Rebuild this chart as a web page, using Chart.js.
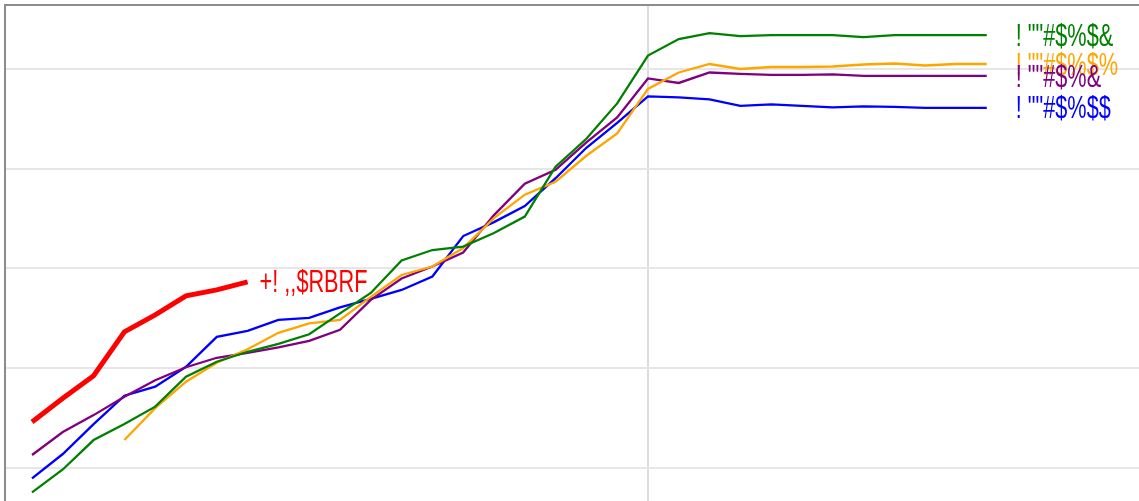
<!DOCTYPE html>
<html>
<head>
<meta charset="utf-8">
<script src="https://cdn.jsdelivr.net/npm/chart.js@4.4.1/dist/chart.umd.min.js"></script>
<style>
  html, body { margin: 0; padding: 0; background: #fff; overflow: hidden; }
  #wrap { width: 1170px; height: 540px; }
</style>
</head>
<body>
<div id="wrap"><canvas id="chart" width="1170" height="540"></canvas></div>
<script>
// x positions (one per year)
const years = [1990, 1991, 1992, 1993, 1994, 1995, 1996, 1997, 1998, 1999,
  2000, 2001, 2002, 2003, 2004, 2005, 2006, 2007, 2008, 2009,
  2010, 2011, 2012, 2013, 2014, 2015, 2016, 2017, 2018, 2019, 2020, 2021];
const markerYear = 2010;
const yTicks = [0, 20, 40, 60, 80];

const greenValues = [-4.9, -0.3, 5.6, 8.8, 12.3, 18.3, 21.3, 23.3, 24.9, 26.8,
  31.0, 35.1, 41.6, 43.7, 44.4, 47.1, 50.4, 60.4, 66.0, 73.1,
  82.7, 86.0, 87.2, 86.6, 86.8, 86.8, 86.8, 86.4, 86.8, 86.8, 86.8, 86.8];
const orangeValues = [null, null, null, 5.6, 12.0, 17.3, 21.1, 23.8, 27.1, 29.0,
  29.7, 34.3, 38.7, 40.4, 44.1, 50.1, 54.8, 57.4, 62.6, 67.1,
  76.0, 79.3, 81.0, 80.0, 80.4, 80.4, 80.5, 80.9, 81.1, 80.7, 81.0, 81.0];
const purpleValues = [2.6, 7.2, 10.6, 14.3, 17.6, 20.2, 22.1, 23.1, 24.2, 25.5,
  27.7, 33.7, 38.0, 40.4, 43.2, 50.7, 57.0, 59.8, 65.3, 70.3,
  78.1, 77.2, 79.3, 79.0, 78.8, 78.8, 78.9, 78.6, 78.6, 78.6, 78.6, 78.6];
const blueValues = [-2.1, 2.8, 8.8, 14.5, 16.3, 20.3, 26.3, 27.5, 29.7, 30.1,
  32.2, 33.9, 35.7, 38.4, 46.5, 49.3, 52.5, 58.1, 64.2, 69.2,
  74.5, 74.3, 73.9, 72.6, 72.9, 72.6, 72.3, 72.5, 72.4, 72.2, 72.2, 72.2];
const redValues = [9.2, 14.0, 18.5, 27.3, 30.7, 34.5, 35.7, 37.3];

const seriesLabels = ['! ""#$%$&', '! ""#$%$%', '! ""#$%&', '! ""#$%$$', '+! ,,$RBRF'];

const toPoints = vals => vals.map((v, i) => ({ x: years[i], y: v }));

// text at the end of each line, squeezed sideways to look like a narrow face
const endLabels = {
  id: 'endLabels',
  afterDatasetsDraw(chart) {
    const ctx = chart.ctx;
    chart.data.datasets.forEach((ds, i) => {
      const meta = chart.getDatasetMeta(i);
      const last = meta.data[meta.data.length - 1];
      ctx.save();
      ctx.font = '31px "Liberation Sans", Arial, sans-serif';
      ctx.textBaseline = 'middle';
      ctx.textAlign = 'left';
      ctx.fillStyle = ds.borderColor;
      ctx.translate(last.x + ds.labelGap, last.y + 2);
      ctx.scale(0.7, 1);
      ctx.fillText(ds.label, 0, 0);
      ctx.restore();
    });
  }
};

new Chart(document.getElementById('chart'), {
  type: 'line',
  data: {
    datasets: [
      { label: seriesLabels[0], data: toPoints(greenValues), borderColor: 'green', borderWidth: 2.3, labelGap: 29 },
      { label: seriesLabels[1], data: toPoints(orangeValues), borderColor: 'orange', borderWidth: 2.3, labelGap: 29 },
      { label: seriesLabels[2], data: toPoints(purpleValues), borderColor: 'purple', borderWidth: 2.3, labelGap: 29 },
      { label: seriesLabels[3], data: toPoints(blueValues), borderColor: 'blue', borderWidth: 2.3, labelGap: 29 },
      { label: seriesLabels[4], data: toPoints(redValues), borderColor: 'red', borderWidth: 5, labelGap: 12 }
    ]
  },
  options: {
    responsive: false,
    animation: false,
    devicePixelRatio: 1,
    layout: { padding: { left: 5, top: 5, right: 0, bottom: 0 } },
    elements: { point: { radius: 0 }, line: { tension: 0, borderCapStyle: 'butt' } },
    plugins: { legend: { display: false }, tooltip: { enabled: false } },
    scales: {
      x: {
        type: 'linear',
        min: years[0] - 0.877,
        max: years[0] + 36.95,
        afterBuildTicks: s => { s.ticks = [{ value: markerYear }]; },
        ticks: { display: false },
        grid: { color: '#dcdcdc', lineWidth: 2, drawTicks: false },
        border: { display: false }
      },
      xTop: {
        type: 'linear',
        position: 'top',
        ticks: { display: false },
        grid: { display: false, drawTicks: false },
        border: { display: true, color: '#8c8c8c', width: 2 }
      },
      y: {
        min: -14.44,
        max: 92.83,
        afterBuildTicks: s => { s.ticks = yTicks.map(v => ({ value: v })); },
        ticks: { display: false },
        grid: { color: '#e6e6e6', lineWidth: 2, drawTicks: false },
        border: { display: true, color: '#8c8c8c', width: 2 }
      }
    }
  },
  plugins: [endLabels]
});
</script>
</body>
</html>
